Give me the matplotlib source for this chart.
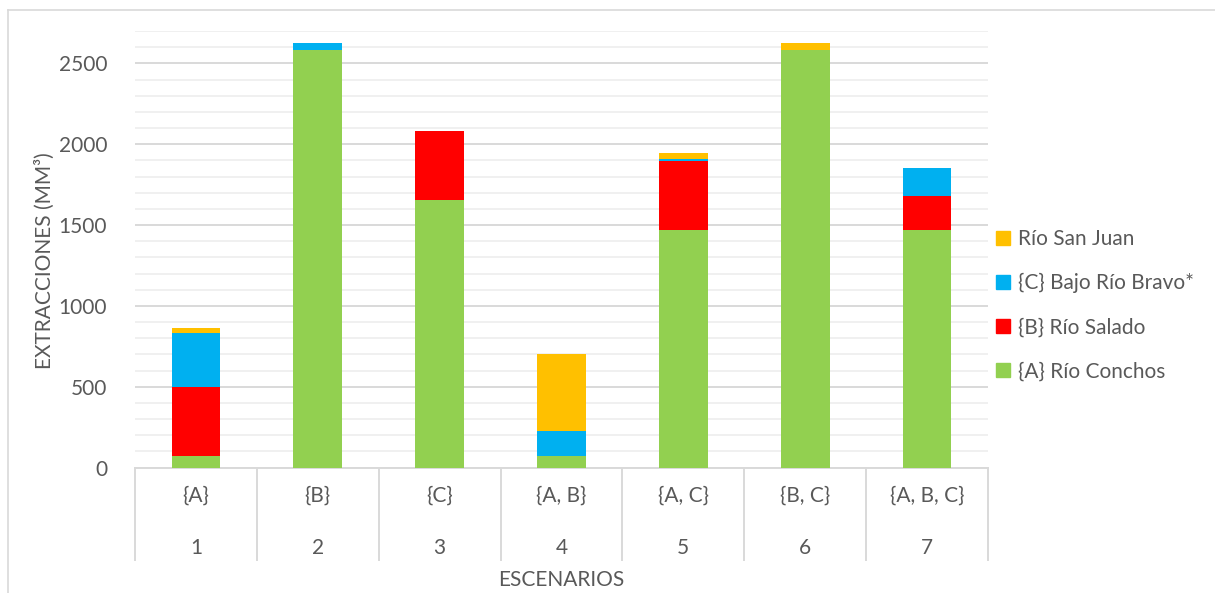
import numpy as np
import matplotlib
matplotlib.use("Agg")
import matplotlib.pyplot as plt
from matplotlib.lines import Line2D

# extracciones por escenario (MM3)
escenarios = ["1", "2", "3", "4", "5", "6", "7"]
combinaciones = ["{A}", "{B}", "{C}", "{A, B}", "{A, C}", "{B, C}", "{A, B, C}"]
rio_conchos = [70, 2580, 1655, 70, 1470, 2580, 1470]
rio_salado = [425, 0, 425, 0, 423, 0, 210]
bajo_rio_bravo = [335, 43, 0, 157, 15, 4, 173]
rio_san_juan = [30, 0, 0, 478, 38, 42, 0]

series = [
    ("{A} Río Conchos", rio_conchos, "#92D050"),
    ("{B} Río Salado", rio_salado, "#FF0000"),
    ("{C} Bajo Río Bravo*", bajo_rio_bravo, "#00B0F0"),
    ("Río San Juan", rio_san_juan, "#FFC000"),
]

txt = "#595959"
plt.rcParams["font.family"] = ["Lato", "DejaVu Sans"]
plt.rcParams["font.size"] = 15

fig = plt.figure(figsize=(12.15, 5.93), dpi=100)
ax = fig.add_axes([135/1215, (593-467.5)/593, 853/1215, 436.5/593])

x = np.arange(len(escenarios))
bottom = np.zeros(len(x))
handles = []
for name, vals, col in series:
    v = np.array(vals, dtype=float)
    ax.bar(x, v, width=0.4, bottom=bottom, color=col, zorder=3)
    bottom += v
    handles.append(Line2D([], [], marker="s", ls="none", ms=10, color=col, label=name))

ax.set_xlim(-0.5, len(x) - 0.5)
ax.set_ylim(0, 2700)
ax.set_yticks(np.arange(0, 2501, 500))
ax.set_yticks(np.arange(0, 2701, 100), minor=True)
ax.grid(axis="y", which="major", color="#d9d9d9", lw=1.4, zorder=1)
ax.grid(axis="y", which="minor", color="#f0f0f0", lw=1.4, zorder=0)
ax.tick_params(axis="y", which="both", length=0, pad=20, labelcolor=txt)
ax.set_xticks([])
for s in ["top", "right", "left"]:
    ax.spines[s].set_visible(False)
ax.spines["bottom"].set_color("#d9d9d9")
ax.spines["bottom"].set_linewidth(1.4)

# two-level category axis drawn as boxed labels
trans = ax.get_xaxis_transform()
for b in np.arange(-0.5, len(x), 1.0):
    ax.plot([b, b], [0, -0.212], transform=trans, color="#d9d9d9", lw=1.4,
            clip_on=False)
for i in x:
    ax.text(i, -0.065, combinaciones[i], transform=trans, ha="center",
            va="center", color=txt)
    ax.text(i, -0.184, escenarios[i], transform=trans, ha="center",
            va="center", color=txt)
ax.text(3, -0.257, "ESCENARIOS", transform=trans, ha="center", va="center",
        color=txt)

ax.set_ylabel("EXTRACCIONES (MM³)", color=txt)
ax.yaxis.set_label_coords(-0.094, 0.475)

leg = fig.legend(handles=handles[::-1], loc="center left",
                 bbox_to_anchor=(0.805, 0.485), frameon=False,
                 labelspacing=1.15, handlelength=0.6, handletextpad=0.4)
for t in leg.get_texts():
    t.set_color(txt)

# chart area border
fig.add_artist(Line2D([8/1215, 8/1215], [0, 1 - 10/593], transform=fig.transFigure,
                      color="#d9d9d9", lw=1.2))
fig.add_artist(Line2D([8/1215, 1], [1 - 10/593, 1 - 10/593], transform=fig.transFigure,
                      color="#d9d9d9", lw=1.2))

fig.savefig("out.png", dpi=100, facecolor="white")
